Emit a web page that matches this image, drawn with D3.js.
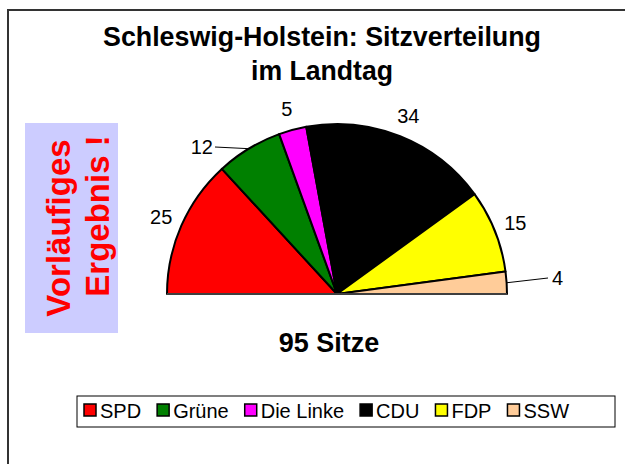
<!DOCTYPE html>
<html>
<head>
<meta charset="utf-8">
<script src="https://cdn.jsdelivr.net/npm/d3@7"></script>
<style>
  body { margin: 0; background: #fff; }
  text { font-family: Arial, "Liberation Sans", sans-serif; }
</style>
</head>
<body>
<div id="vis-holder"></div>
<script>
// Chart data
const parties = ["SPD", "Grüne", "Die Linke", "CDU", "FDP", "SSW"];
const seats = [25, 12, 5, 34, 15, 4];
const colors = ["#FF0000", "#008000", "#FF00FF", "#000000", "#FFFF00", "#FFCC99"];
const titleLines = ["Schleswig-Holstein: Sitzverteilung", "im Landtag"];
const totalLabel = "95 Sitze";
const noteLines = ["Vorläufiges", "Ergebnis !"];

const width = 625;
const height = 464;

const svg = d3.select("#vis-holder")
              .append("svg")
              .attr("width", width)
              .attr("height", height);

// outer frame (runs off the right and bottom)
svg.append("rect")
   .attr("x", 8).attr("y", 10)
   .attr("width", 700).attr("height", 500)
   .attr("fill", "#fff")
   .attr("stroke", "#333")
   .attr("stroke-width", 2);

// Title (the original font is a bit narrow, so squeeze it a little)
const titleWidths = [438, 142];
svg.selectAll(".title")
   .data(titleLines)
   .enter()
   .append("text")
     .attr("class", "title")
     .attr("x", 322)
     .attr("y", (d, i) => 46 + i * 34)
     .attr("text-anchor", "middle")
     .attr("font-size", "28px")
     .attr("font-weight", "bold")
     .attr("textLength", (d, i) => titleWidths[i])
     .attr("lengthAdjust", "spacingAndGlyphs")
     .text(d => d);

// Note box
svg.append("rect")
   .attr("x", 25).attr("y", 123)
   .attr("width", 93).attr("height", 210)
   .attr("fill", "#CCCCFF");

svg.selectAll(".note")
   .data(noteLines)
   .enter()
   .append("text")
     .attr("class", "note")
     .attr("transform", (d, i) => `translate(${58 + i * 39}, ${i ? 216 : 228}) rotate(-90)`)
     .attr("text-anchor", "middle")
     .attr("dominant-baseline", "central")
     .attr("font-size", "33px")
     .attr("font-weight", "bold")
     .attr("fill", "#FF0000")
     .text(d => d);

// Half pie
const cx = 337, cy = 294, r = 170;
const color = d3.scaleOrdinal().domain(parties).range(colors);

const data = parties.map((p, i) => ({ party: p, seats: seats[i] }));

const pie = d3.pie()
              .value(d => d.seats)
              .sort(null)
              .startAngle(-Math.PI / 2)
              .endAngle(Math.PI / 2);

const arc = d3.arc().innerRadius(0).outerRadius(r);
const labelArc = d3.arc().innerRadius(r + 22).outerRadius(r + 22);

const g = svg.append("g").attr("transform", `translate(${cx},${cy})`);

const arcs = pie(data);

g.selectAll("path")
 .data(arcs)
 .enter()
 .append("path")
   .attr("d", arc)
   .attr("fill", d => color(d.data.party))
   .attr("stroke", "#000")
   .attr("stroke-width", 2)
   .attr("stroke-linejoin", "round");

// baseline under the half pie
g.append("line")
 .attr("x1", -r).attr("x2", r)
 .attr("y1", 0).attr("y2", 0)
 .attr("stroke", "#555")
 .attr("stroke-width", 1.5);

// labels; two small slices are moved aside with a leader line, like the original
const moved = {
  "Grüne": { x: -124, y: -147, anchor: "end", line: true },
  "SSW":   { x: 215, y: -16, anchor: "start", line: true }
};

arcs.forEach(d => {
  const m = moved[d.data.party];
  const mid = (d.startAngle + d.endAngle) / 2;
  let [lx, ly] = labelArc.centroid(d);
  let anchor = "middle";
  if (m) {
    lx = m.x; ly = m.y; anchor = m.anchor;
    const ax = Math.sin(mid) * r, ay = -Math.cos(mid) * r;
    const ex = anchor === "end" ? lx + 2 : lx - 4;
    g.append("line")
     .attr("x1", ex).attr("y1", ly)
     .attr("x2", ax).attr("y2", ay)
     .attr("stroke", "#000")
     .attr("stroke-width", 1);
  }
  g.append("text")
   .attr("x", lx)
   .attr("y", ly)
   .attr("text-anchor", anchor)
   .attr("dominant-baseline", "central")
   .attr("font-size", "20px")
   .text(d.data.seats);
});

// total
svg.append("text")
   .attr("x", 329).attr("y", 352)
   .attr("text-anchor", "middle")
   .attr("font-size", "27px")
   .attr("font-weight", "bold")
   .text(totalLabel);

// Legend
const legend = svg.append("g");
legend.append("rect")
      .attr("x", 77).attr("y", 396)
      .attr("width", 538).attr("height", 31)
      .attr("fill", "#fff")
      .attr("stroke", "#000")
      .attr("stroke-width", 1);

let lx = 84;
data.forEach(d => {
  legend.append("rect")
        .attr("x", lx).attr("y", 404)
        .attr("width", 12).attr("height", 12)
        .attr("fill", color(d.party))
        .attr("stroke", "#000")
        .attr("stroke-width", 1.5);
  const t = legend.append("text")
        .attr("x", lx + 16).attr("y", 418)
        .attr("font-size", "20px")
        .text(d.party);
  lx += 16 + t.node().getComputedTextLength() + 16;
});
</script>
</body>
</html>
